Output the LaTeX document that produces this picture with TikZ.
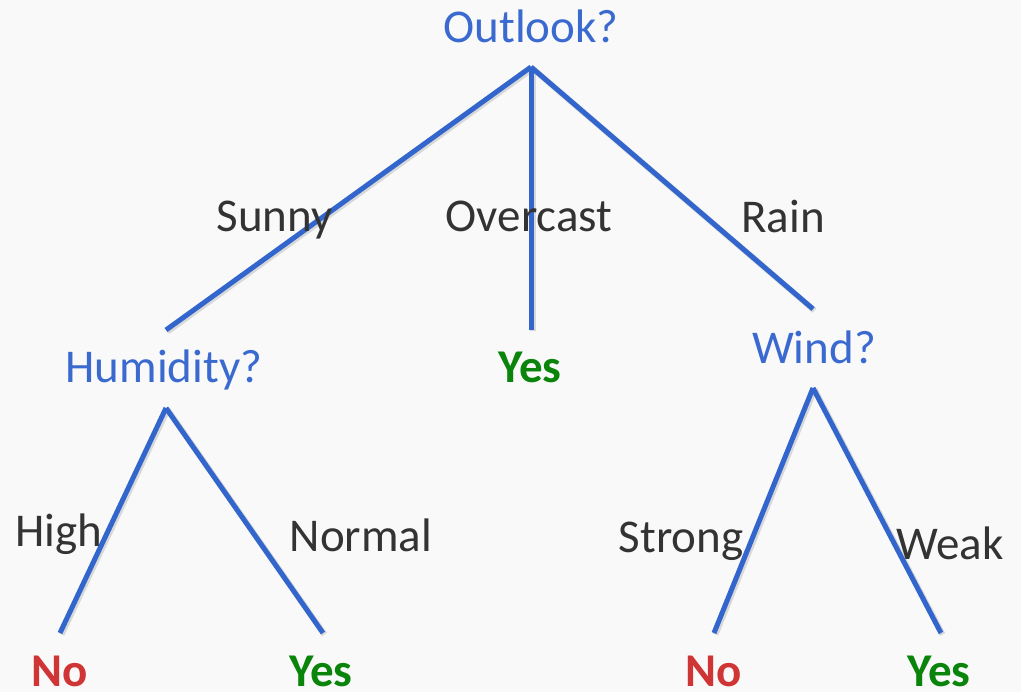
\documentclass[tikz,border=0pt]{standalone}
\usepackage{fontspec}
\setmainfont{Carlito}
\definecolor{bg}{HTML}{F9F9F9}
\definecolor{edgeblue}{HTML}{3366CC}
\definecolor{qblue}{HTML}{3A6AD0}
\definecolor{labelgray}{HTML}{333333}
\definecolor{nored}{HTML}{D03535}
\definecolor{yesgreen}{HTML}{0A840A}
\begin{document}
\begin{tikzpicture}[x=1pt,y=-1pt,
  txt/.style={inner sep=0pt,anchor=base,font=\fontsize{47}{56}\selectfont},
  question/.style={txt,text=qblue},
  branch/.style={txt,text=labelgray},
  answerno/.style={txt,text=nored,text depth=0pt,font=\fontsize{47}{56}\selectfont\bfseries},
  answeryes/.style={txt,text=yesgreen,text depth=0pt,font=\fontsize{47}{56}\selectfont\bfseries},
  edge/.style={draw=edgeblue,line width=5pt},
  edgeshadow/.style={draw=black,opacity=0.13,line width=6pt,transform canvas={shift={(1.5pt,-1.5pt)}}}]
\fill[bg] (0,0) rectangle (1021,692);
\useasboundingbox (0,0) rectangle (1021,692);

% questions
\node[question] (outlook) at (531,43) {Outlook?};
\node[question] (humidity) at (164,383) {Humidity?};
\node[question] (wind) at (814,364) {Wind?};

% leaves
\node[answeryes] (overcastyes) at (530,383) {Yes};
\node[answerno] (highno) at (60,686) {No};
\node[answeryes] (normalyes) at (321,686) {Yes};
\node[answerno] (strongno) at (714,686) {No};
\node[answeryes] (weakyes) at (939,686) {Yes};

% attachment points of the edges
\coordinate (outlook-b) at (531,67);
\coordinate (humidity-t) at (166,330);
\coordinate (overcast-t) at (531,330);
\coordinate (wind-t) at (813,309);
\coordinate (humidity-b) at (166,408);
\coordinate (highno-t) at (60,633);
\coordinate (normalyes-t) at (323,633);
\coordinate (wind-b) at (813,388);
\coordinate (strongno-t) at (714,633);
\coordinate (weakyes-t) at (941,633);

% edges (soft shadow, then the line)
\foreach \a/\b in {outlook-b/humidity-t,outlook-b/overcast-t,outlook-b/wind-t,
                   humidity-b/highno-t,humidity-b/normalyes-t,
                   wind-b/strongno-t,wind-b/weakyes-t}{
  \draw[edgeshadow] (\a) -- (\b);
}
\foreach \a/\b in {outlook-b/humidity-t,outlook-b/overcast-t,outlook-b/wind-t,
                   humidity-b/highno-t,humidity-b/normalyes-t,
                   wind-b/strongno-t,wind-b/weakyes-t}{
  \draw[edge] (\a) -- (\b);
}

% branch labels
\node[branch] (sunny) at (274.5,232) {Sunny};
\node[branch] (overcast) at (529,232) {Overcast};
\node[branch] (rain) at (783,233) {Rain};
\node[branch,anchor=base west] (high) at (15,547) {High};
\node[branch] (normal) at (361,552) {Normal};
\node[branch] (strong) at (681,553) {Strong};
\node[branch] (weak) at (950,560) {Weak};
\end{tikzpicture}
\end{document}
